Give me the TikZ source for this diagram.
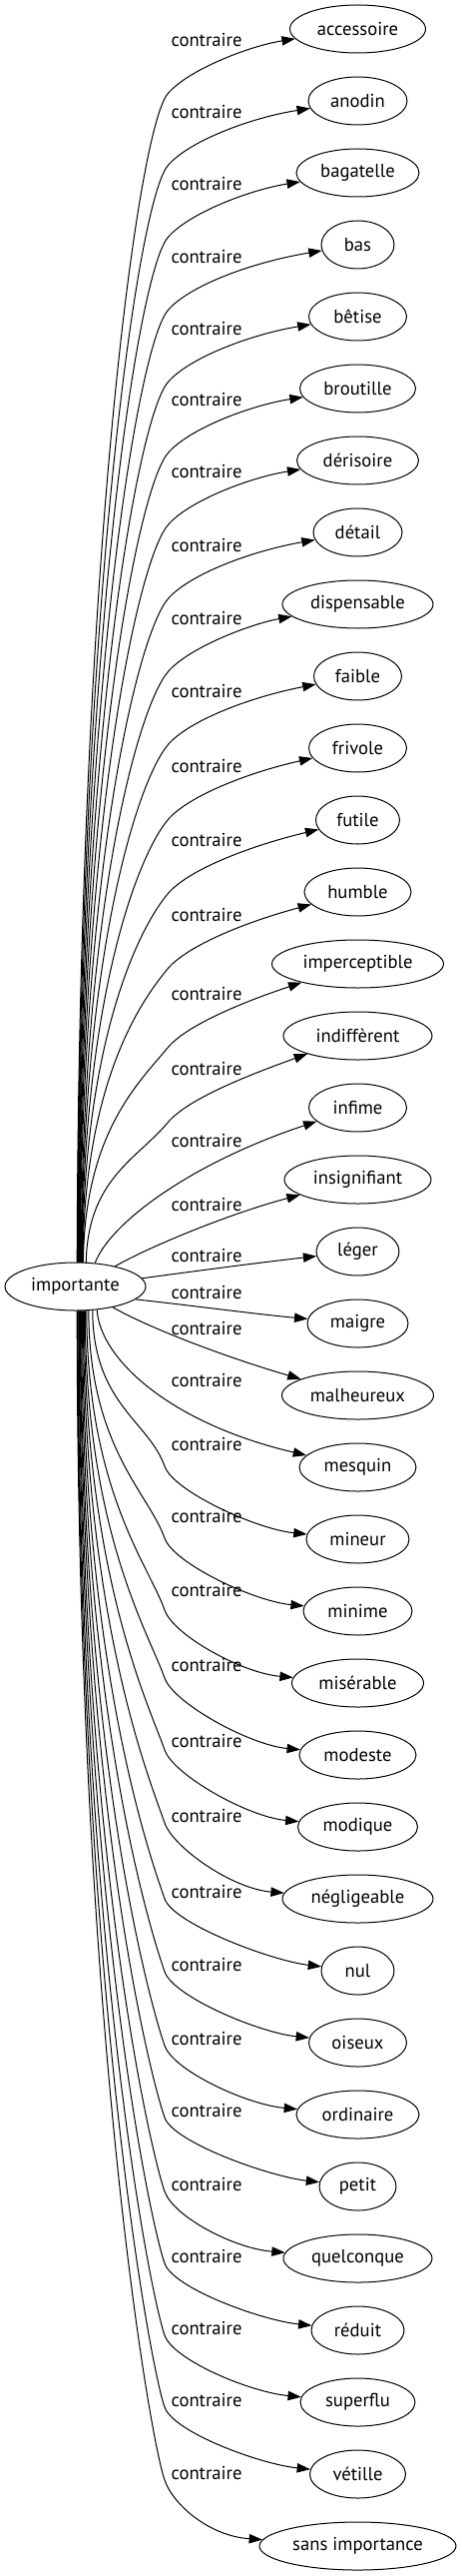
\documentclass[tikz,border=0pt]{standalone}
\usepackage{fontspec}
\setmainfont{PT Sans}
\usetikzlibrary{arrows.meta,shapes.geometric}
\begin{document}
\begin{tikzpicture}[x=0.75pt,y=-0.75pt,
  lbl/.style={font=\fontsize{14pt}{16pt}\selectfont},
  word/.style={lbl,draw,ellipse,line width=0.75pt,minimum height=36pt,inner sep=0pt},
  rel/.style={lbl,inner sep=0pt},
  edge/.style={line width=0.75pt,-{Triangle[length=10pt,width=7pt]}}]
\useasboundingbox (0,0) rectangle (462,2579);
\node[word,minimum width=105.75pt] (imp) at (75.5,1288) {importante};
\foreach \i/\t/\w in {0/accessoire/136,1/anodin/99,2/bagatelle/123,3/bas/73,4/bêtise/98,5/broutille/116,6/dérisoire/122,7/détail/89,8/dispensable/151,9/faible/88,10/frivole/98,11/futile/84,12/humble/107,13/imperceptible/172,14/indiffèrent/149,15/infime/98,16/insignifiant/147,17/léger/83,18/maigre/101,19/malheureux/152,20/mesquin/117,21/mineur/103,22/minime/109,23/misérable/132,24/modeste/117,25/modique/120,26/négligeable/151,27/nul/73,28/oiseux/98,29/ordinaire/123,30/petit/77,31/quelconque/149,32/réduit/93,33/superflu/115,34/vétille/96,35/sans importance/197}{
  \pgfmathsetmacro\mw{0.75*\w}
  \node[word,minimum width=\mw pt] (t\i) at (358.5,29+72*\i) {\t};
}
\foreach \i/\Ly in {0/40,1/112,2/184,3/257,4/329,5/400,6/472,7/546,8/619,9/692,10/767,11/841,12/916,13/995,14/1070,15/1142,16/1206,17/1257,18/1294,19/1330,20/1382,21/1446,22/1518,23/1592,24/1667,25/1743,26/1818,27/1894,28/1967,29/2041,30/2113,31/2187,32/2259,33/2331,34/2403,35/2476}{
  \node[rel] (l\i) at (207,\Ly) {contraire};
}
% upper edges
\foreach \i/\sx/\Ly in {0/77/40,1/77.45/112,2/77.9/184,3/78.35/257,4/78.8/329,5/79.25/400,6/79.7/472,7/80.15/546,8/80.6/619,9/81.05/692,10/81.5/767,11/81.95/841,12/82.4/916,13/82.85/995,14/86/1070}{
  \pgfmathsetmacro\dx{\sx-75.5}
  \pgfmathsetmacro\dy{24*sqrt(1-(\dx/70.5)^2)}
  \pgfmathtruncatemacro\ang{atan2(\dy,\dx)}
  \pgfmathsetmacro\sy{1288-\dy}
  \pgfmathsetmacro\Ky{\Ly+54}
  \pgfmathsetmacro\Ca{\sy-0.6*(\sy-\Ky)}
  \draw[edge] (imp.\ang) .. controls (\sx+2,\Ca) and (138,\Ky+36) .. (168,\Ky) .. controls (188,\Ky-24) and (250,\Ly+6) .. (t\i);
}
% near edges
\draw[edge] (imp.50) .. controls (110,1225) and (190,1165) .. (t15);
\draw[edge] (imp.27) .. controls (150,1248) and (230,1215) .. (t16);
\draw[edge] (imp.7) .. controls (200,1272) and (260,1264) .. (t17);
\draw[edge] (imp.348) .. controls (200,1308) and (260,1316) .. (t18);
\draw[edge] (imp.331) .. controls (150,1330) and (230,1360) .. (t19);
\draw[edge] (imp.313) .. controls (100,1360) and (170,1425) .. (t20);
% lower edges
\foreach \i/\sx/\Ly/\dl/\w in {21/93/1446/22/103,22/89/1518/22/109,23/87/1592/20/132,24/85.5/1667/13/117,25/84.5/1743/9/120,26/83.5/1818/7/151,27/82.5/1894/7/73,28/81.7/1967/7/98,29/81/2041/7/123,30/80.3/2113/7/77,31/79.6/2187/7/149,32/79/2259/7/93,33/78.4/2331/7/115,34/77.8/2403/7/96,35/77.2/2476/7/197}{
  \pgfmathsetmacro\dx{\sx-75.5}
  \pgfmathsetmacro\dy{24*sqrt(1-(\dx/70.5)^2)}
  \pgfmathtruncatemacro\ang{360-atan2(\dy,\dx)}
  \pgfmathsetmacro\sy{1288+\dy}
  \pgfmathsetmacro\Lz{\Ly+\dl}
  \pgfmathsetmacro\Ca{\sy+0.6*(\Lz-\sy)}
  \pgfmathsetmacro\cy{29+72*\i}
  \pgfmathsetmacro\cx{308.5-0.5*\w}
  \draw[edge] (imp.\ang) .. controls (\sx,\Ca) and (149.25,\Lz-45) .. (165,\Lz) .. controls (173.75,\Lz+25) and (\cx,\cy-10) .. (t\i);
}
\end{tikzpicture}
\end{document}
